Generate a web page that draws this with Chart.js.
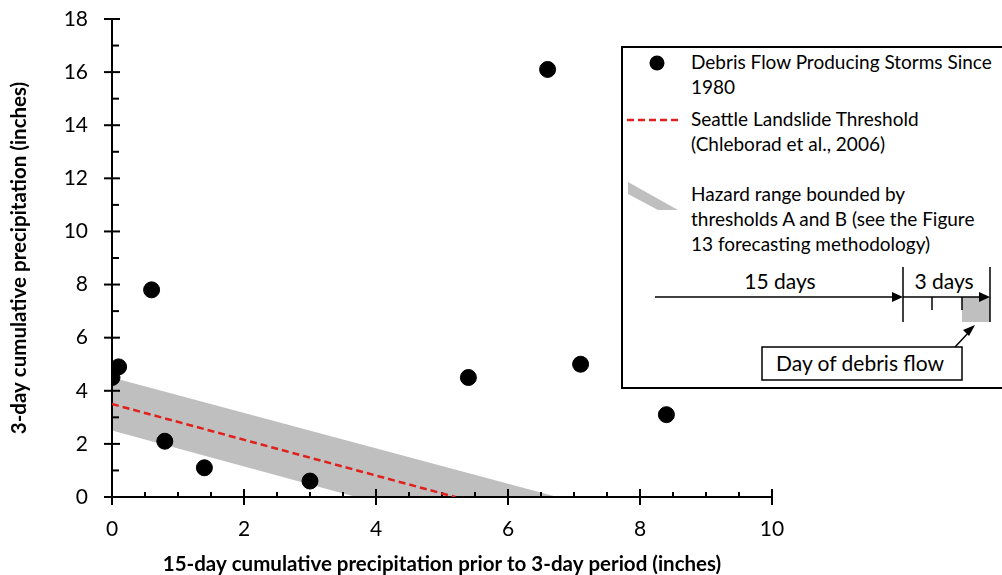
<!DOCTYPE html>
<html>
<head>
<meta charset="utf-8">
<script src="https://cdn.jsdelivr.net/npm/chart.js@4/dist/chart.umd.min.js"></script>
<style>
  body { margin:0; background:#fff; overflow:hidden; }
  #wrap { position:relative; width:1002px; height:575px; }
  #c { position:absolute; left:0; top:0; }
  #leg { position:absolute; left:0; top:0; }
  #leg text { font-family: Lato, "Open Sans", sans-serif; fill:#000; }
</style>
</head>
<body>
<div id="wrap">
  <canvas id="c" width="1002" height="575"></canvas>
  <svg id="leg" width="1002" height="575">
    <rect x="622" y="47" width="390" height="341" fill="#fff" stroke="#000" stroke-width="2"/>
    <circle cx="657" cy="63" r="7.5" fill="#000"/>
    <text x="691" y="69" font-size="19">Debris Flow Producing Storms Since</text>
    <text x="691" y="94" font-size="19">1980</text>
    <line x1="627" y1="120" x2="681" y2="120" stroke="#e0201c" stroke-width="2.5" stroke-dasharray="7,4"/>
    <text x="691" y="126" font-size="19">Seattle Landslide Threshold</text>
    <text x="691" y="151" font-size="19">(Chleborad et al., 2006)</text>
    <polygon points="628,182 678,210 658,210 628,194" fill="#bfbfbf"/>
    <text x="691" y="201" font-size="19">Hazard range bounded by</text>
    <text x="691" y="226" font-size="19">thresholds A and B (see the Figure</text>
    <text x="691" y="251" font-size="19">13 forecasting methodology)</text>
    <!-- 15 + 3 day timeline -->
    <rect x="962" y="297" width="28" height="25" fill="#bfbfbf"/>
    <line x1="655" y1="297" x2="896" y2="297" stroke="#000" stroke-width="1.5"/>
    <polygon points="903,297 892,292 892,302" fill="#000"/>
    <line x1="903" y1="297" x2="983" y2="297" stroke="#000" stroke-width="1.5"/>
    <polygon points="990,297 979,292 979,302" fill="#000"/>
    <line x1="903" y1="267" x2="903" y2="322" stroke="#000" stroke-width="1.5"/>
    <line x1="990" y1="267" x2="990" y2="322" stroke="#000" stroke-width="1.5"/>
    <line x1="932" y1="297" x2="932" y2="310" stroke="#000" stroke-width="1.5"/>
    <line x1="962" y1="297" x2="962" y2="310" stroke="#000" stroke-width="1.5"/>
    <text x="780" y="289" font-size="21" text-anchor="middle">15 days</text>
    <text x="944" y="289" font-size="21" text-anchor="middle">3 days</text>
    <line x1="955" y1="347" x2="970" y2="331" stroke="#000" stroke-width="1.5"/>
    <polygon points="975,325 963,330 969,336" fill="#000"/>
    <rect x="762" y="347" width="200" height="33" fill="#fff" stroke="#000" stroke-width="1.5"/>
    <text x="860" y="371" font-size="21" text-anchor="middle">Day of debris flow</text>
  </svg>
</div>
<script>
// debris flow producing storms (15-day vs 3-day precipitation, inches)
var stormX = [0, 0, 0.1, 0.6, 0.8, 1.4, 3.0, 5.4, 6.6, 7.1, 8.4];
var stormY = [4.8, 4.5, 4.9, 7.8, 2.1, 1.1, 0.6, 4.5, 16.1, 5.0, 3.1];

// Seattle landslide threshold
var threshX = [0, 5.2];
var threshY = [3.5, 0];

// hazard range polygon (threshold A top edge, threshold B bottom edge)
var bandX = [0, 6.75, 3.7, 0, 0];
var bandY = [4.5, 0, 0, 2.5, 4.5];

var xMin = 0, xMax = 10, xStep = 2, xMinor = 0.5;
var yMin = 0, yMax = 18, yStep = 2, yMinor = 1;

function pts(xs, ys){
	var out = [];
	for(var i=0;i<xs.length;i++){
		out.push({x: xs[i], y: ys[i]});
	}
	return out;
}

function seg(ctx, x1, y1, x2, y2){
	ctx.beginPath();
	ctx.moveTo(x1, y1);
	ctx.lineTo(x2, y2);
	ctx.stroke();
}

// axis lines and crossing ticks, drawn right after the gray band
var axesPlugin = {
	id: 'axes',
	afterDatasetDraw: function(chart, args){
		if(args.index !== 2) return;
		var ctx = chart.ctx, xs = chart.scales.x, ys = chart.scales.y;
		var x0 = xs.getPixelForValue(xMin), y0 = ys.getPixelForValue(yMin);
		ctx.save();
		ctx.setLineDash([]);
		ctx.strokeStyle = '#000';
		ctx.lineWidth = 2;
		seg(ctx, x0, ys.getPixelForValue(yMax) - 1, x0, y0 + 1);
		seg(ctx, x0 - 1, y0, xs.getPixelForValue(xMax) + 1, y0);
		for(var i=0; i<=(yMax-yMin)/yMinor; i++){
			var v = yMin + i*yMinor;
			var py = ys.getPixelForValue(v);
			if(v % yStep === 0) seg(ctx, x0-8, py, x0+8, py);
			else seg(ctx, x0, py, x0+7, py);
		}
		for(var j=0; j<=(xMax-xMin)/xMinor; j++){
			var u = xMin + j*xMinor;
			var px = xs.getPixelForValue(u);
			if(u % xStep === 0) seg(ctx, px, y0-8, px, y0+8);
			else seg(ctx, px, y0, px, y0-5);
		}
		ctx.restore();
	}
};

var ctx = document.getElementById('c').getContext('2d');
var chart = new Chart(ctx, {
	type: 'scatter',
	data: {
		datasets: [
			{
				label: 'Debris Flow Producing Storms Since 1980',
				data: pts(stormX, stormY),
				backgroundColor: '#000',
				borderColor: '#000',
				pointRadius: 8,
				order: 0
			},
			{
				label: 'Seattle Landslide Threshold',
				data: pts(threshX, threshY),
				showLine: true,
				borderColor: '#e0201c',
				borderWidth: 2.5,
				borderDash: [7, 4],
				pointRadius: 0,
				fill: false,
				order: 1
			},
			{
				label: 'Hazard range',
				data: pts(bandX, bandY),
				showLine: true,
				borderWidth: 0,
				borderColor: 'rgba(0,0,0,0)',
				backgroundColor: '#bfbfbf',
				pointRadius: 0,
				fill: 'shape',
				order: 2
			}
		]
	},
	options: {
		responsive: false,
		animation: false,
		layout: { autoPadding: false, padding: { left: 0, top: 19, right: 230, bottom: 0 } },
		plugins: { legend: { display: false }, tooltip: { enabled: false } },
		scales: {
			x: {
				type: 'linear', min: xMin, max: xMax,
				// grid off, tickLength only used as the gap above the labels
				grid: { display: false, drawTicks: true, tickLength: 20 },
				border: { display: false },
				ticks: { stepSize: xStep, padding: 0, color: '#000', font: { family: 'Lato', size: 21 } },
				title: { display: true, text: '15-day cumulative precipitation prior to 3-day period (inches)',
					color: '#000', font: { family: 'Lato', size: 20.5, weight: 'bold', lineHeight: 1 }, padding: { top: 0, bottom: 0 } },
				afterFit: function(s){ s.height = 78; }
			},
			y: {
				type: 'linear', min: yMin, max: yMax,
				grid: { display: false, drawTicks: true, tickLength: 24 },
				border: { display: false },
				ticks: { stepSize: yStep, padding: 0, color: '#000', font: { family: 'Lato', size: 21 } },
				title: { display: true, text: '3-day cumulative precipitation (inches)',
					color: '#000', font: { family: 'Lato', size: 20.5, weight: 'bold', lineHeight: 1 }, padding: { top: 9, bottom: 0 } },
				afterFit: function(s){ s.width = 112; }
			}
		}
	},
	plugins: [axesPlugin]
});
</script>
</body>
</html>
